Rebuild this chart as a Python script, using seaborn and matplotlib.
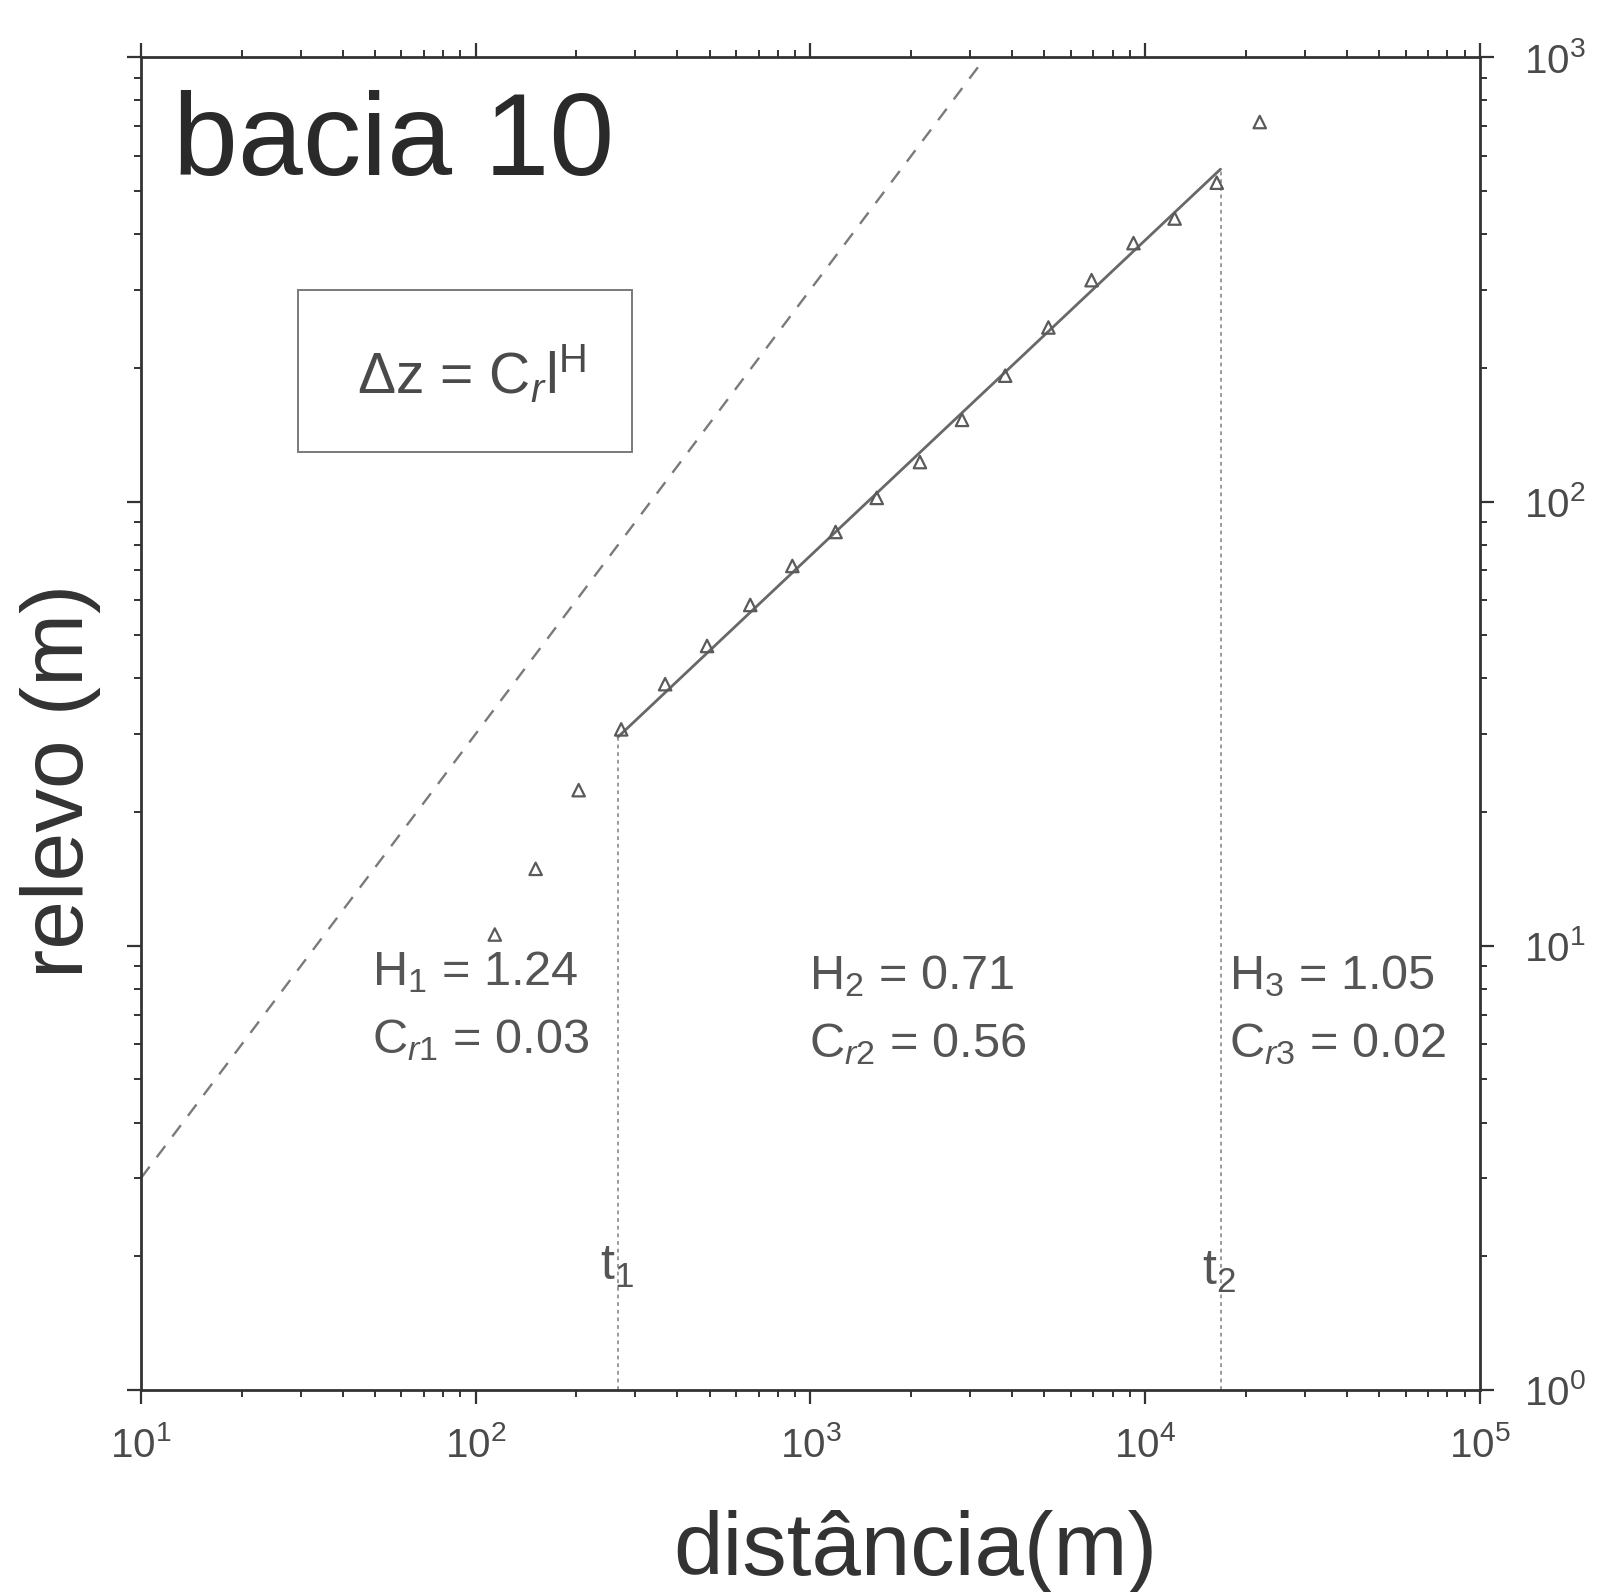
import numpy as np
import pandas as pd
import matplotlib
matplotlib.use("Agg")
import matplotlib.pyplot as plt
import seaborn as sns
from matplotlib.patches import Rectangle
from matplotlib.ticker import LogLocator, LogFormatterMathtext, NullFormatter

# Relief vs. distance for basin 10
distancia = [114, 151, 203, 272, 368, 491, 661, 883, 1189, 1578,
             2124, 2838, 3818, 5140, 6918, 9230, 12250, 16370, 22000]
relevo = [10.6, 14.9, 22.4, 30.7, 38.8, 47.3, 58.5, 71.6, 85.4, 101.9,
          122.7, 152.7, 192, 246.5, 315, 381.7, 433.6, 522, 715]

# Fitted parameters per segment (delta z = Cr * l^H)
H_vals = [1.24, 0.71, 1.05]
Cr_vals = [0.03, 0.56, 0.02]
H_labels = ["1.24", "0.71", "1.05"]
Cr_labels = ["0.03", "0.56", "0.02"]

# Breakpoints between segments
t_breaks = [266, 16800]

# Reference line of slope 1
ref_coef = 0.3
ref_x = [10, 3333]

sns.set_style("ticks")
plt.rcParams["font.family"] = ["Liberation Sans", "DejaVu Sans"]
plt.rcParams["mathtext.fontset"] = "custom"
plt.rcParams["mathtext.rm"] = "Liberation Sans"
plt.rcParams["mathtext.it"] = "Liberation Sans:italic"
plt.rcParams["mathtext.bf"] = "Liberation Sans:bold"
plt.rcParams["mathtext.default"] = "rm"

fig = plt.figure(figsize=(16.12, 15.92), dpi=100)
ax = fig.add_axes([0.0875, 0.1269, 0.918 - 0.0875, 0.964 - 0.1269])
ax.set_xscale("log")
ax.set_yscale("log")

df = pd.DataFrame({"distancia": distancia, "relevo": relevo})

# Reference slope-1 dashed line
ref_df = pd.DataFrame({"x": ref_x, "y": [ref_coef * v for v in ref_x]})
sns.lineplot(data=ref_df, x="x", y="y", ax=ax, color="#7a7a7a",
             linewidth=1.7, dashes=False, linestyle=(0, (6, 5)))

# Middle segment fit
seg_x = t_breaks
seg_y = [Cr_vals[1] * v ** H_vals[1] for v in seg_x]
seg_df = pd.DataFrame({"x": seg_x, "y": seg_y})
sns.lineplot(data=seg_df, x="x", y="y", ax=ax, color="#686868", linewidth=2.0)

# Vertical dotted markers at the breakpoints
for tx, ty in zip(seg_x, seg_y):
    ax.plot([tx, tx], [1, ty], color="#808080", linewidth=1.1,
            linestyle=(0, (2.5, 2.5)))

# Data points
sns.scatterplot(data=df, x="distancia", y="relevo", ax=ax, marker="^",
                s=80, facecolor="none", edgecolor="#5a5a5a", linewidth=1.6,
                zorder=5)

ax.set_xlim(10, 1e5)
ax.set_ylim(1, 1000)

# Axes styling
for sp in ax.spines.values():
    sp.set_color("#333333")
    sp.set_linewidth(2.0)
    sp.set_visible(True)

ax.xaxis.set_major_locator(LogLocator(base=10, numticks=10))
ax.yaxis.set_major_locator(LogLocator(base=10, numticks=10))
ax.xaxis.set_minor_locator(LogLocator(base=10, subs=np.arange(2, 10), numticks=20))
ax.yaxis.set_minor_locator(LogLocator(base=10, subs=np.arange(2, 10), numticks=20))
ax.xaxis.set_major_formatter(LogFormatterMathtext())
ax.yaxis.set_major_formatter(LogFormatterMathtext())
ax.xaxis.set_minor_formatter(NullFormatter())
ax.yaxis.set_minor_formatter(NullFormatter())

ax.tick_params(which="both", direction="out", top=True, bottom=True,
               left=True, right=True, labelleft=False, labelright=True,
               labelbottom=True, labeltop=False, color="#333333")
ax.tick_params(which="major", length=10, width=1.6, labelsize=29,
               labelcolor="#4a4a4a")
ax.tick_params(axis="x", which="major", pad=16)
ax.tick_params(axis="y", which="major", pad=22)
ax.tick_params(which="minor", length=5, width=1.4)

ax.set_xlabel("distância(m)", fontsize=64, color="#333333")
ax.set_ylabel("relevo (m)", fontsize=63, color="#333333")
ax.xaxis.set_label_coords(0.578, -0.090)
ax.yaxis.set_label_coords(-0.03, 0.457)

# Title inside the plot
ax.text(0.024, 0.9115, "bacia 10", transform=ax.transAxes, fontsize=84,
        color="#2a2a2a", ha="left", va="baseline")

# Formula box
ax.add_patch(Rectangle((0.117, 0.704), 0.250, 0.1215, transform=ax.transAxes,
                       fill=False, edgecolor="#7a7a7a", linewidth=1.4))
ax.text(0.247, 0.748, r"$\Delta$z = C$_\mathit{r}$l$^{\mathrm{H}}$",
        transform=ax.transAxes, fontsize=41, color="#4a4a4a",
        ha="center", va="baseline")

# Segment annotations
xs = [0.1725, 0.499, 0.8126]
yH = [0.304, 0.301, 0.301]
yC = [0.2526, 0.250, 0.250]
for i in range(3):
    ax.text(xs[i], yH[i], r"H$_{%d}$ = %s" % (i + 1, H_labels[i]),
            transform=ax.transAxes, fontsize=35, color="#555555",
            ha="left", va="baseline")
    ax.text(xs[i], yC[i], r"C$_{\mathit{r}%d}$ = %s" % (i + 1, Cr_labels[i]),
            transform=ax.transAxes, fontsize=35, color="#555555",
            ha="left", va="baseline")

# Breakpoint labels
for i, (tx, ty) in enumerate(zip(t_breaks, [0.0825, 0.079])):
    ax.annotate(r"t$_{%d}$" % (i + 1), xy=(tx, ty),
                xycoords=ax.get_xaxis_transform(), xytext=(-13, 0),
                textcoords="offset points", ha="left", va="baseline",
                fontsize=36, color="#555555")

fig.savefig("out.png", dpi=100, facecolor="white")
